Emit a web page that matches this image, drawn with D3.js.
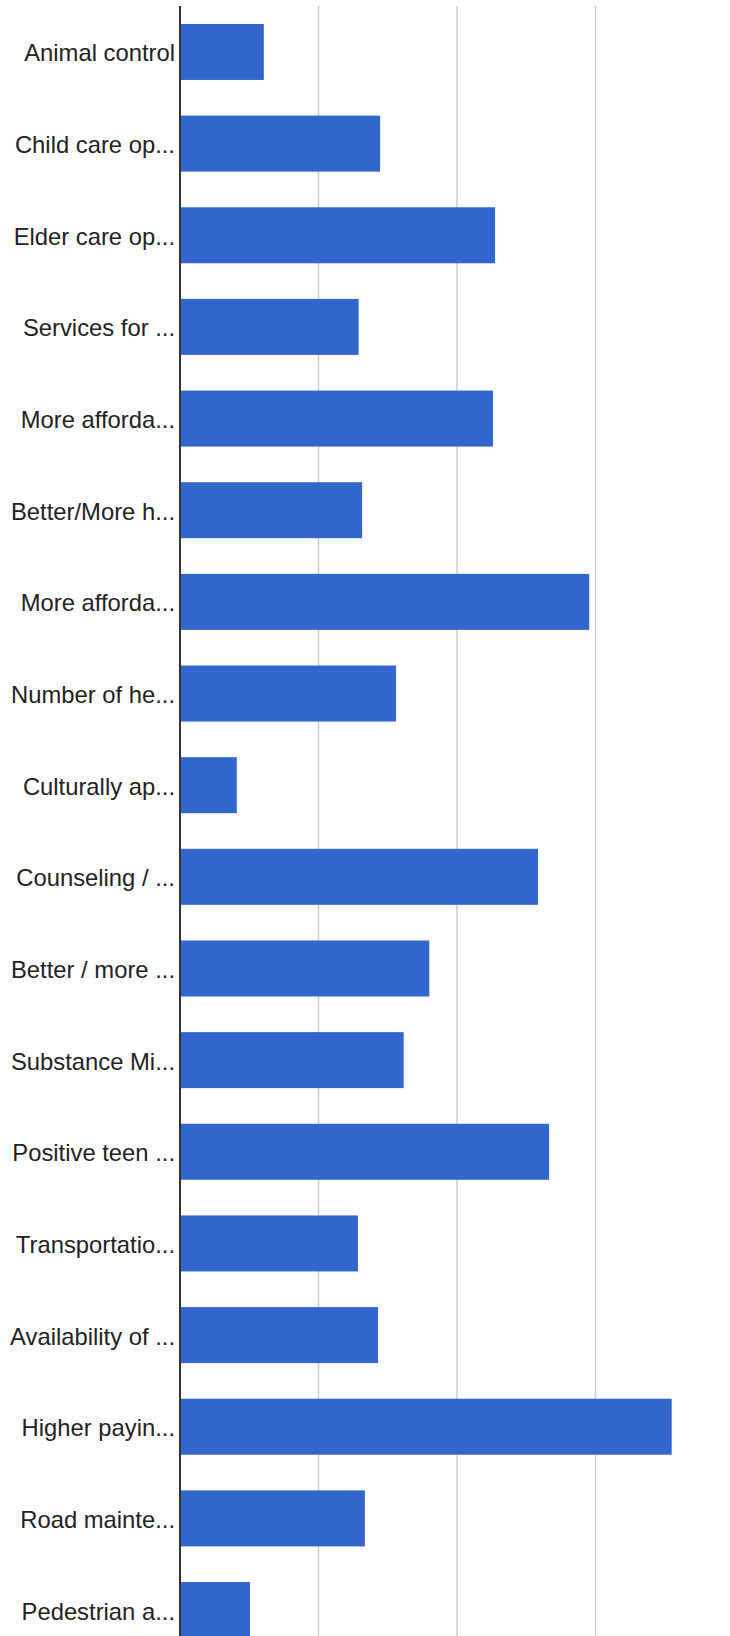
<!DOCTYPE html>
<html>
<head>
<meta charset="utf-8">
<script src="https://cdn.jsdelivr.net/npm/d3@7"></script>
<style>
  html, body { margin: 0; padding: 0; background: #fff; }
  svg { display: block; }
</style>
</head>
<body>
<div id="chart"></div>
<script>
const categories = [
  "Animal control",
  "Child care op...",
  "Elder care op...",
  "Services for ...",
  "More afforda...",
  "Better/More h...",
  "More afforda...",
  "Number of he...",
  "Culturally ap...",
  "Counseling / ...",
  "Better / more ...",
  "Substance Mi...",
  "Positive teen ...",
  "Transportatio...",
  "Availability of ...",
  "Higher payin...",
  "Road mainte...",
  "Pedestrian a..."
];
const values = [12.1, 28.9, 45.5, 25.8, 45.2, 26.3, 59.1, 31.2, 8.2, 51.7, 36.0, 32.3, 53.3, 25.7, 28.6, 71.0, 26.7, 10.1];
const gridTicks = [20, 40, 60, 80];

const W = 730, H = 1636;
const svg = d3.select("#chart").append("svg").attr("width", W).attr("height", H);

const x = d3.scaleLinear().domain([0, 80]).range([180, 734]);
const y = d3.scaleBand()
  .domain(categories.map((d, i) => i))
  .range([6, 1656])
  .paddingInner(0.389)
  .paddingOuter(0.196);

const plotTop = 6, plotBottom = 1656;

// gridlines
svg.append("g").selectAll("line").data(gridTicks).join("line")
  .attr("x1", d => x(d)).attr("x2", d => x(d))
  .attr("y1", plotTop).attr("y2", plotBottom)
  .attr("stroke", "#cccccc").attr("stroke-width", 1.5);

// bars
svg.append("g").selectAll("rect").data(values).join("rect")
  .attr("x", x(0))
  .attr("y", (d, i) => y(i))
  .attr("width", d => x(d) - x(0))
  .attr("height", y.bandwidth())
  .attr("fill", "#3366cc");

// axis baseline
svg.append("line")
  .attr("x1", x(0)).attr("x2", x(0))
  .attr("y1", plotTop).attr("y2", plotBottom)
  .attr("stroke", "#333333").attr("stroke-width", 2);

// labels
svg.append("g").selectAll("text").data(categories).join("text")
  .attr("x", 175)
  .attr("y", (d, i) => y(i) + y.bandwidth() / 2 + 9.5)
  .attr("text-anchor", "end")
  .attr("font-family", "Arial, 'Liberation Sans', sans-serif")
  .attr("font-size", "23.8px")
  .attr("fill", "#222222")
  .text(d => d);
</script>
</body>
</html>
